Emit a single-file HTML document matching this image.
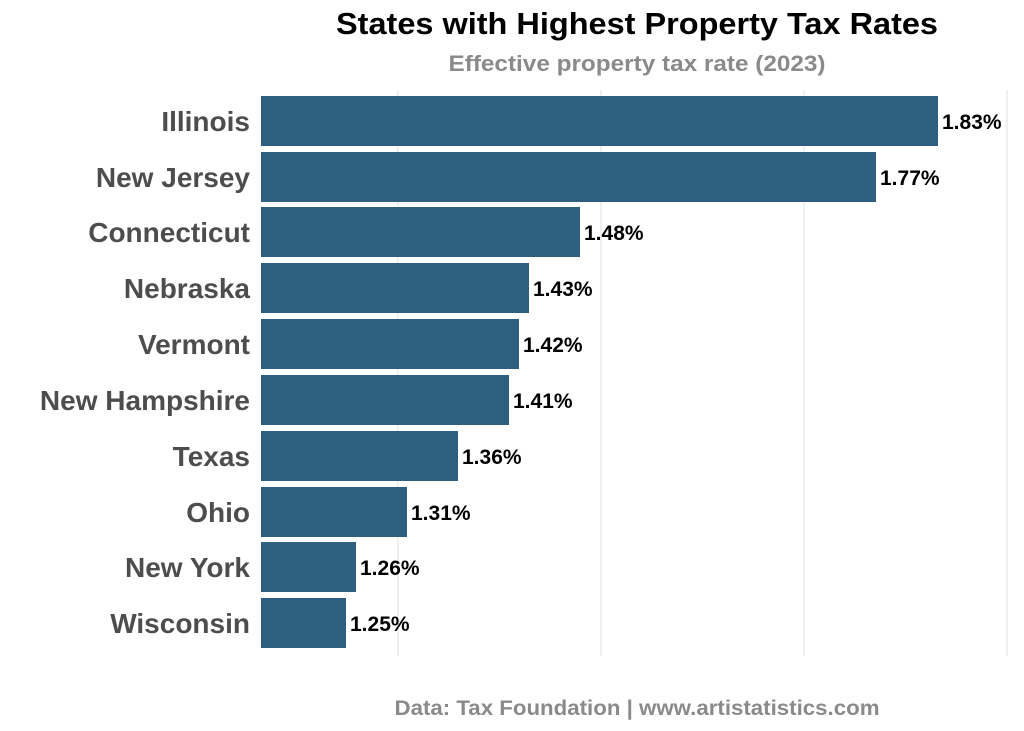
<!DOCTYPE html>
<html><head><meta charset="utf-8"><style>
html,body{margin:0;padding:0;background:#fff;}
svg{display:block;font-family:"Liberation Sans",Arial,sans-serif;font-weight:bold;}
</style></head><body>
<svg width="1024" height="731" viewBox="0 0 1024 731" xmlns="http://www.w3.org/2000/svg">
<rect width="1024" height="731" fill="#fff"/>
<text x="637" y="34" font-size="31" text-anchor="middle" fill="#000" textLength="602" lengthAdjust="spacingAndGlyphs">States with Highest Property Tax Rates</text>
<text x="637" y="71" font-size="22" text-anchor="middle" fill="#8a8a8a" textLength="377" lengthAdjust="spacingAndGlyphs">Effective property tax rate (2023)</text>
<g stroke="#ebebeb" stroke-width="1.5">
<line x1="398" y1="90" x2="398" y2="656"/>
<line x1="601" y1="90" x2="601" y2="656"/>
<line x1="804" y1="90" x2="804" y2="656"/>
<line x1="1007" y1="90" x2="1007" y2="656"/>
</g>
<g fill="#2e5f80">
<rect x="261" y="96" width="677" height="50"/>
<rect x="261" y="152" width="615" height="50"/>
<rect x="261" y="207" width="319" height="50"/>
<rect x="261" y="263" width="268" height="50"/>
<rect x="261" y="319" width="258" height="50"/>
<rect x="261" y="375" width="248" height="50"/>
<rect x="261" y="431" width="197" height="50"/>
<rect x="261" y="487" width="146" height="50"/>
<rect x="261" y="542" width="95" height="50"/>
<rect x="261" y="598" width="85" height="50"/>
</g>
<g font-size="28" fill="#4d4d4d" text-anchor="end">
<text x="250" y="131">Illinois</text>
<text x="250" y="187">New Jersey</text>
<text x="250" y="242">Connecticut</text>
<text x="250" y="298">Nebraska</text>
<text x="250" y="354">Vermont</text>
<text x="250" y="410">New Hampshire</text>
<text x="250" y="466">Texas</text>
<text x="250" y="522">Ohio</text>
<text x="250" y="577">New York</text>
<text x="250" y="633">Wisconsin</text>
</g>
<g font-size="21" fill="#000">
<text x="942" y="129">1.83%</text>
<text x="880" y="185">1.77%</text>
<text x="584" y="240">1.48%</text>
<text x="533" y="296">1.43%</text>
<text x="523" y="352">1.42%</text>
<text x="513" y="408">1.41%</text>
<text x="462" y="464">1.36%</text>
<text x="411" y="520">1.31%</text>
<text x="360" y="575">1.26%</text>
<text x="350" y="631">1.25%</text>
</g>
<text x="637" y="715" font-size="21" text-anchor="middle" fill="#8a8a8a" textLength="485" lengthAdjust="spacingAndGlyphs">Data: Tax Foundation | www.artistatistics.com</text>
</svg>
</body></html>
